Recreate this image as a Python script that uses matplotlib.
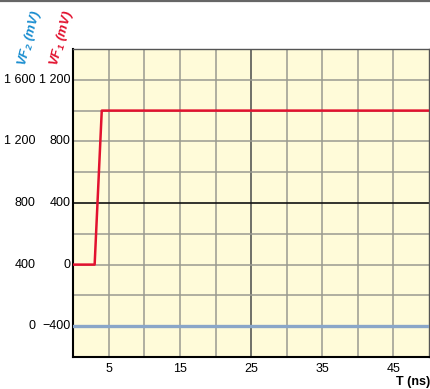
import matplotlib
matplotlib.use("Agg")
import matplotlib.pyplot as plt
from matplotlib.lines import Line2D
import matplotlib.transforms as mtransforms

plt.rcParams['font.family'] = ['Liberation Sans', 'DejaVu Sans']
plt.rcParams['mathtext.default'] = 'regular'

# Waveform data (time in ns, voltage in mV on the VF1 scale)
t_vf1 = [0, 3, 4, 50]
vf1 = [0, 0, 1000, 1000]
t_vf2 = [0, 50]
vf2_on_vf1_scale = [-400, -400]

# Tick labels
x_ticks = [5, 15, 25, 35, 45]
vf1_ticks = [1200, 800, 400, 0, -400]
vf1_labels = ["1 200", "800", "400", "0", "\u2212400"]
vf2_labels = ["1 600", "1 200", "800", "400", "0"]

RED = "#e2122f"
BLUE = "#1b8ed0"
BG = "#fffbd9"
GRID = "#9a9a90"

W, H = 430, 389
fig = plt.figure(figsize=(W / 100, H / 100), dpi=100)
ax = fig.add_axes([73.3 / W, (H - 357) / H, (429 - 73.3) / W, (357 - 49) / H])
ax.set_facecolor(BG)
ax.set_xlim(0, 50)
ax.set_ylim(-600, 1400)

# Grid
for x in range(5, 50, 5):
    ax.axvline(x, color="#707068" if x == 25 else GRID, lw=1.4 if x == 25 else 1.1, zorder=1)
for y in range(-400, 1400, 200):
    if y == 400:
        ax.axhline(y, color="#111111", lw=1.2, zorder=1)
    else:
        ax.axhline(y, color=GRID, lw=1.1, zorder=1)

# Traces
ax.plot(t_vf2, vf2_on_vf1_scale, color="#8aa6c8", lw=2.4, zorder=3)
ax.plot(t_vf1, vf1, color=RED, lw=1.8, zorder=4)

# Axes frame
for side in ["top", "right"]:
    ax.spines[side].set_color("#555555")
    ax.spines[side].set_linewidth(1.0)
for side in ["left", "bottom"]:
    ax.spines[side].set_color("black")
    ax.spines[side].set_linewidth(1.5)

ax.set_xticks(x_ticks)
ax.set_xticklabels([str(v) for v in x_ticks], fontsize=9)
ax.tick_params(axis="x", length=0, pad=4)
ax.set_yticks([])

# Two columns of y labels
trans = mtransforms.blended_transform_factory(fig.transFigure, ax.transData)
for v, l1, l2 in zip(vf1_ticks, vf1_labels, vf2_labels):
    ax.text(70.5 / W, v, l1, transform=trans, fontsize=9, ha="right", va="center")
    ax.text(35.5 / W, v, l2, transform=trans, fontsize=9, ha="right", va="center")

# Axis titles
fig.text(30 / W, 1 - 38 / H, "VF$_2$ (mV)", color=BLUE, fontsize=9.5, fontweight="bold",
         fontstyle="italic", rotation=75, ha="center", va="center")
fig.text(62 / W, 1 - 38 / H, "VF$_1$ (mV)", color=RED, fontsize=9.5, fontweight="bold",
         fontstyle="italic", rotation=75, ha="center", va="center")
fig.text(430 / W, 1 - 382 / H, "T (ns)", fontsize=9, fontweight="bold", ha="right", va="center")

# Top rule
fig.add_artist(Line2D([0, 1], [1 - 0.8 / H, 1 - 0.8 / H], transform=fig.transFigure,
                      color="#666666", lw=1.6))

fig.savefig("out.png", dpi=100)
